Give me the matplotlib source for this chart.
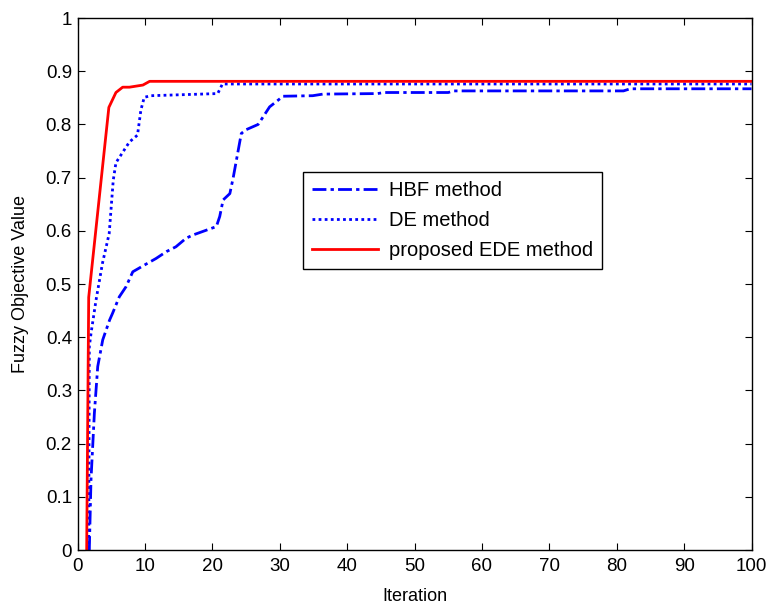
import matplotlib
matplotlib.use("Agg")
from matplotlib import pyplot as plt
from matplotlib.ticker import FixedLocator

# HBF method (dash-dot)
hbf_x = [1.75, 2.0, 2.5, 3.0, 3.74, 4.75, 5.2, 6.2, 7.2, 8.2, 9.7, 11.65, 13.2, 14.6, 16.1, 17.1,
         20.6, 21.1, 21.6, 22.6, 23.1, 24.3, 25.0, 26.8, 28.5, 30.5, 34.9, 36.4, 44.5, 45.5,
         55.0, 55.8, 81.0, 82.0, 100.0]
hbf_y = [0.0, 0.132, 0.257, 0.345, 0.395, 0.432, 0.445, 0.476, 0.495, 0.523, 0.534, 0.548, 0.561,
         0.570, 0.586, 0.592, 0.608, 0.627, 0.658, 0.670, 0.700, 0.783, 0.790, 0.800, 0.833,
         0.853, 0.854, 0.857, 0.858, 0.860, 0.860, 0.863, 0.863, 0.867, 0.867]

# DE method (dotted)
de_x = [1.66, 1.75, 2.0, 2.75, 3.7, 4.7, 5.3, 5.7, 7.7, 8.9, 9.4, 9.9, 10.9, 20.8, 21.5, 100.0]
de_y = [0.0, 0.382, 0.407, 0.470, 0.539, 0.595, 0.695, 0.728, 0.767, 0.780, 0.827, 0.851,
        0.854, 0.858, 0.876, 0.876]

# proposed EDE method (solid)
ede_x = [1.36, 1.66, 3.5, 4.65, 5.7, 6.7, 7.7, 9.7, 10.7, 100.0]
ede_y = [0.0, 0.475, 0.695, 0.832, 0.860, 0.870, 0.870, 0.874, 0.881, 0.881]

yticklabels = ['0', '0.1', '0.2', '0.3', '0.4', '0.5', '0.6', '0.7', '0.8', '0.9', '1']

plt.rcParams['font.family'] = ['Liberation Sans', 'DejaVu Sans']

fig = plt.figure(figsize=(7.69, 6.05), dpi=100)
ax = fig.add_axes([0.1008, 0.0909, 0.8765, 0.8793])

ax.plot(hbf_x, hbf_y, color='blue', linestyle=(0, (5, 1.5, 1.2, 1.5)), lw=2.0, label='HBF method')
ax.plot(de_x, de_y, color='blue', linestyle=(0, (1, 1.2)), lw=2.0, label='DE method')
ax.plot(ede_x, ede_y, color='red', linestyle='-', lw=2.0, label='proposed EDE method')

ax.set_xlim(0, 100)
ax.set_ylim(0, 1)
ax.xaxis.set_major_locator(FixedLocator(range(0, 101, 10)))
ax.yaxis.set_major_locator(FixedLocator([i / 10 for i in range(11)]))
ax.set_yticklabels(yticklabels)
ax.tick_params(direction='in', top=True, right=True, length=5, labelsize=13.5, width=0.8)
ax.tick_params(axis='x', pad=6)
ax.tick_params(axis='y', pad=4)
for s in ax.spines.values():
    s.set_linewidth(1.0)

ax.set_xlabel('Iteration', fontsize=13, labelpad=9)
ax.set_ylabel('Fuzzy Objective Value', fontsize=13, labelpad=12)

leg = ax.legend(loc='upper left', bbox_to_anchor=(0.334, 0.7105), borderaxespad=0, fontsize=14.5,
                frameon=True, fancybox=False, edgecolor='black', framealpha=1, handlelength=3.3,
                borderpad=0.45, labelspacing=0.55, handletextpad=0.55)
leg.get_frame().set_linewidth(1.0)

fig.savefig('out.png', dpi=100)
